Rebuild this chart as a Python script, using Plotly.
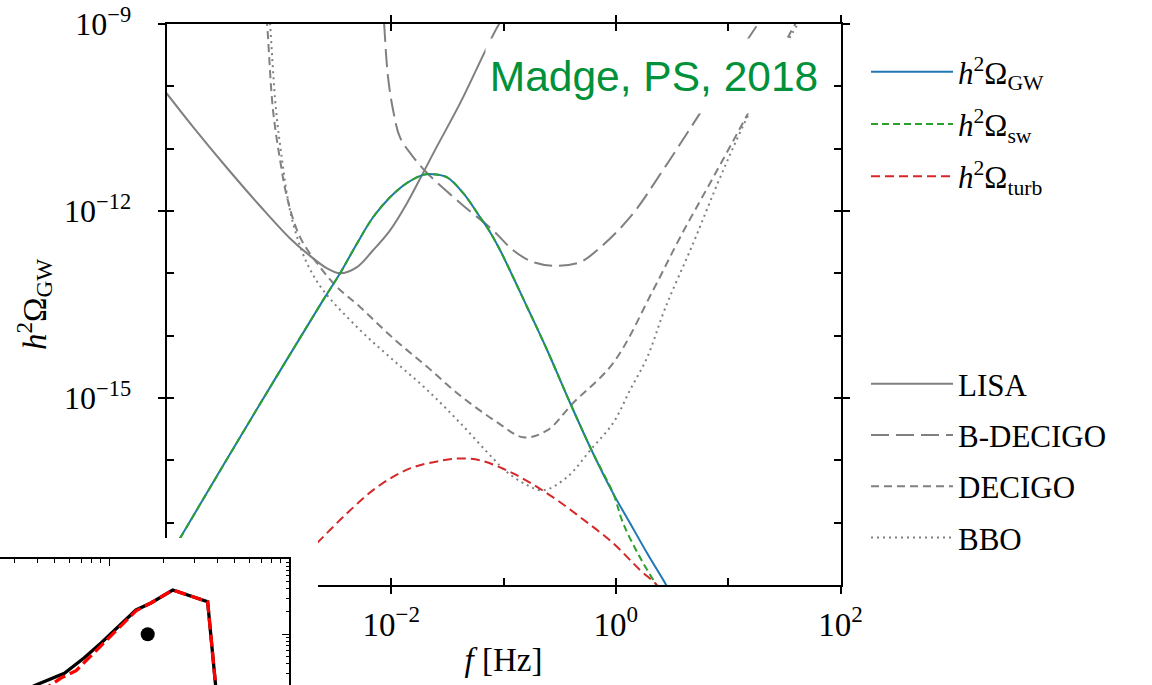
import numpy as np
import plotly.graph_objects as go

W, H = 1152, 685
OFF = 0  # page body margin is removed by the post script below, so layout pixels = page pixels

# ---------------- data (log10 f [Hz], log10 h^2 Omega) ----------------
gw_log_f = [-3.98, -3.88, -3.256, -2.606, -2.455, -2.304, -2.161, -2.010, -1.858, -1.716, -1.627,
            -1.502, -1.360, -1.208, -1.119, -1.030, -0.790, -0.612, -0.407, -0.202, -0.024,
            0.127, 0.279, 0.439, 0.48]
gw_log_om = [-17.55, -17.25, -15.36, -13.43, -13.00, -12.52, -12.10, -11.78, -11.55, -11.42, -11.41,
             -11.46, -11.71, -12.10, -12.34, -12.63, -13.54, -14.23, -15.08, -15.89, -16.53,
             -17.01, -17.49, -17.97, -18.1]

sw_log_f = [-3.98, -3.88, -3.256, -2.606, -2.455, -2.304, -2.161, -2.010, -1.858, -1.716, -1.627,
            -1.502, -1.360, -1.208, -1.119, -1.030, -0.790, -0.612, -0.407, -0.202, -0.024,
            0.065, 0.216, 0.350, 0.39]
sw_log_om = [-17.55, -17.25, -15.36, -13.43, -13.00, -12.52, -12.10, -11.78, -11.55, -11.42, -11.41,
             -11.46, -11.71, -12.10, -12.34, -12.63, -13.54, -14.23, -15.08, -15.89, -16.53,
             -17.01, -17.56, -17.97, -18.1]

turb_log_f = [-2.75, -2.651, -2.428, -2.126, -1.832, -1.538, -1.386, -1.208, -0.914, -0.612,
              -0.318, -0.024, 0.216, 0.350, 0.40]
turb_log_om = [-17.48, -17.31, -16.91, -16.43, -16.13, -16.00, -15.97, -16.00, -16.21, -16.53,
               -16.91, -17.33, -17.76, -17.97, -18.08]

lisa_log_f = [-4.0, -3.764, -3.461, -3.167, -2.900, -2.722, -2.571, -2.455, -2.304, -2.161,
              -2.010, -1.858, -1.716, -1.609, -1.386, -1.039, -0.98]
lisa_log_om = [-10.11, -10.65, -11.31, -11.92, -12.44, -12.72, -12.92, -13.00, -12.90, -12.63,
               -12.31, -11.87, -11.39, -11.02, -10.27, -9.0, -8.87]

bdecigo_log_f = [-2.075, -2.063, -2.028, -1.983, -1.921, -1.805, -1.680, -1.386, -1.093, -0.914,
                 -0.736, -0.523, -0.318, -0.167, 0.127, 0.421, 0.750, 1.267, 1.3]
bdecigo_log_om = [-8.6, -8.98, -9.85, -10.38, -10.82, -11.13, -11.39, -11.87, -12.31, -12.63,
                  -12.82, -12.88, -12.82, -12.63, -12.10, -11.34, -10.43, -9.0, -8.93]

decigo_log_f = [-3.12, -3.105, -3.052, -2.989, -2.927, -2.811, -2.633, -2.482, -2.277, -1.983,
                -1.680, -1.386, -1.048, -0.825, -0.612, -0.380, -0.024, 0.332, 0.573, 0.867,
                1.178, 1.597, 1.65]
decigo_log_om = [-8.7, -8.98, -10.38, -11.18, -11.78, -12.42, -12.90, -13.22, -13.54, -14.04,
                 -14.50, -14.96, -15.40, -15.63, -15.52, -15.08, -14.44, -13.27, -12.42, -11.46,
                 -10.43, -9.0, -8.85]

bbo_log_f = [-3.09, -3.078, -3.025, -2.971, -2.918, -2.856, -2.749, -2.606, -2.277, -1.983,
             -1.680, -1.386, -1.093, -0.968, -0.808, -0.647, -0.434, -0.229, -0.024, 0.127,
             0.279, 0.439, 0.688, 0.929, 1.196, 1.62, 1.68]
bbo_log_om = [-8.7, -9.0, -10.38, -11.18, -11.83, -12.31, -12.84, -13.27, -13.91, -14.39,
              -14.87, -15.40, -15.97, -16.19, -16.38, -16.48, -16.27, -15.84, -15.40, -14.87,
              -14.35, -13.56, -12.52, -11.46, -10.40, -9.0, -8.85]

# inset fragment (bottom-left corner), log10 coordinates
inset_black_log_x = [-0.489, -0.406, -0.248, -0.139, -0.044, 0.150, 0.233, 0.354, 0.548, 0.594, 0.60]
inset_black_log_y = [-1.77, -1.68, -1.524, -1.32, -1.12, -0.68, -0.587, -0.413, -0.569, -1.68, -1.88]
inset_red_log_x = [-0.378, -0.267, -0.183, -0.044, 0.150, 0.233, 0.354, 0.548, 0.594, 0.60]
inset_red_log_y = [-1.77, -1.587, -1.49, -1.16, -0.69, -0.587, -0.413, -0.569, -1.68, -1.88]
inset_dot_log_x = [0.215]
inset_dot_log_y = [-1.004]

xtick_vals = [1e-2, 1e-1, 1e0, 1e1, 1e2]
xtick_major = [1e-2, 1e0, 1e2]
xtick_major_text = ["10<sup>\u22122</sup>", "10<sup>0</sup>", "10<sup>2</sup>"]
ytick_vals = [1e-9, 1e-10, 1e-11, 1e-12, 1e-13, 1e-14, 1e-15, 1e-16, 1e-17]
ytick_major = [1e-9, 1e-12, 1e-15]
ytick_major_text = ["10<sup>\u22129</sup>", "10<sup>\u221212</sup>", "10<sup>\u221215</sup>"]


def p10(a):
    return np.power(10.0, np.asarray(a, dtype=float))


def fx(px):  # page x pixel -> paper fraction
    return (px - OFF) / W


def fy(py):  # page y pixel -> paper fraction
    return 1 - (py - OFF) / H


GRAY = "#808080"
SERIF = "Liberation Serif"
SM = 1.0

fig = go.Figure()

# detector sensitivity curves
fig.add_trace(go.Scatter(x=p10(lisa_log_f), y=p10(lisa_log_om), mode="lines", name="LISA",
                         line=dict(color=GRAY, width=2, shape="spline", smoothing=SM),
                         legend="legend2", legendgroup="a"))
fig.add_trace(go.Scatter(x=p10(bdecigo_log_f), y=p10(bdecigo_log_om), mode="lines", name="B-DECIGO",
                         line=dict(color=GRAY, width=2, dash="18px,7px", shape="spline", smoothing=SM),
                         legend="legend2", legendgroup="b"))
fig.add_trace(go.Scatter(x=p10(decigo_log_f), y=p10(decigo_log_om), mode="lines", name="DECIGO",
                         line=dict(color=GRAY, width=2, dash="8px,5px", shape="spline", smoothing=SM),
                         legend="legend2", legendgroup="c"))
fig.add_trace(go.Scatter(x=p10(bbo_log_f), y=p10(bbo_log_om), mode="lines", name="BBO",
                         line=dict(color=GRAY, width=2, dash="2px,4px", shape="spline", smoothing=SM),
                         legend="legend2", legendgroup="d"))

# signal curves
fig.add_trace(go.Scatter(x=p10(gw_log_f), y=p10(gw_log_om), mode="lines",
                         name="<i>h</i><sup>2</sup>\u03a9<sub>GW</sub>",
                         line=dict(color="#1f77b4", width=2, shape="spline", smoothing=SM),
                         legend="legend", legendgroup="e"))
fig.add_trace(go.Scatter(x=p10(sw_log_f), y=p10(sw_log_om), mode="lines",
                         name="<i>h</i><sup>2</sup>\u03a9<sub>sw</sub>",
                         line=dict(color="#2ca02c", width=2, dash="7px,4px", shape="spline", smoothing=SM),
                         legend="legend", legendgroup="f"))
fig.add_trace(go.Scatter(x=p10(turb_log_f), y=p10(turb_log_om), mode="lines",
                         name="<i>h</i><sup>2</sup>\u03a9<sub>turb</sub>",
                         line=dict(color="#d62728", width=2, dash="9px,5px", shape="spline", smoothing=SM),
                         legend="legend", legendgroup="g"))

# overlay axes used for the inward ticks (dummy invisible point)
fig.add_trace(go.Scatter(x=[1e-3], y=[1e-12], xaxis="x4", yaxis="y4", mode="markers",
                         marker=dict(opacity=0), showlegend=False, hoverinfo="skip"))

# white cover region for the pasted corner fragment
fig.add_trace(go.Scatter(x=[0.5], y=[0.5], xaxis="x2", yaxis="y2", mode="markers",
                         marker=dict(opacity=0), showlegend=False, hoverinfo="skip"))

# inset fragment
fig.add_trace(go.Scatter(x=p10(inset_black_log_x), y=p10(inset_black_log_y), xaxis="x3", yaxis="y3",
                         mode="lines", line=dict(color="black", width=3.3), showlegend=False,
                         hoverinfo="skip"))
fig.add_trace(go.Scatter(x=p10(inset_red_log_x), y=p10(inset_red_log_y), xaxis="x3", yaxis="y3",
                         mode="lines", line=dict(color="#ff0000", width=3.3, dash="12px,5px"),
                         showlegend=False, hoverinfo="skip"))
fig.add_trace(go.Scatter(x=p10(inset_dot_log_x), y=p10(inset_dot_log_y), xaxis="x3", yaxis="y3",
                         mode="markers", marker=dict(color="black", size=14), showlegend=False,
                         hoverinfo="skip"))

# main frame (page pixels)
X0, X1 = 166.5, 840.5
YT, YB = 24, 585
main_xdom = [fx(X0), fx(X1)]
main_ydom = [fy(YB), fy(YT)]
XR = [-4, 2]
YR = [-18.0, -9.0]

common_axis = dict(showgrid=False, zeroline=False, linecolor="black", linewidth=2,
                   tickcolor="black", tickwidth=1.6, ticklen=7, automargin=False)

inset_minor_x = [k * 10.0 ** e for e in (-1, 0) for k in range(2, 10)]
inset_minor_y = [k * 10.0 ** e for e in (-2, -1) for k in range(2, 10)]

# inset frame: top edge at page y=559 (10^0), right edge at page x=289 (10^1)
inset_top, inset_right = 559, 289
inset_xr = [1.0 - (inset_right - OFF) / 180.0, 1.0]
inset_yr = [-(OFF + H - inset_top) / 75.0, 0.0]

fig.update_layout(
    width=W, height=H,
    margin=dict(l=0, r=0, t=0, b=0, autoexpand=False),
    paper_bgcolor="white", plot_bgcolor="white",
    font=dict(family=SERIF, color="black", size=30),
    xaxis=dict(type="log", range=XR, domain=main_xdom, anchor="y", showline=True,
               mirror="ticks", ticks="outside", tickmode="array", tickvals=xtick_major,
               ticktext=xtick_major_text, tickfont=dict(family=SERIF, size=33),
               ticklabelstandoff=2, ticklabeloverflow="allow",
               title=dict(text="<i>f</i> [Hz]", font=dict(family=SERIF, size=33), standoff=6),
               **common_axis),
    yaxis=dict(type="log", range=YR, domain=main_ydom, anchor="x", showline=True,
               mirror="ticks", ticks="outside", tickmode="array", tickvals=ytick_major,
               ticktext=ytick_major_text, tickfont=dict(family=SERIF, size=32),
               ticklabelstandoff=20, ticklabeloverflow="allow",
               title=dict(text="<i>h</i><sup>2</sup>\u03a9<sub>GW</sub>",
                          font=dict(family=SERIF, size=33), standoff=8),
               **common_axis),
    xaxis4=dict(type="log", range=XR, overlaying="x", anchor="y", side="bottom", showline=True,
                mirror="ticks", ticks="inside", tickmode="array", tickvals=xtick_vals,
                showticklabels=False, **common_axis),
    yaxis4=dict(type="log", range=YR, overlaying="y", anchor="x", side="left", showline=True,
                mirror="ticks", ticks="inside", tickmode="array", tickvals=ytick_vals,
                showticklabels=False, **common_axis),
    xaxis2=dict(domain=[0, fx(318)], anchor="y2", visible=False, range=[0, 1], automargin=False),
    yaxis2=dict(domain=[0, fy(538)], anchor="x2", visible=False, range=[0, 1], automargin=False),
    xaxis3=dict(type="log", range=inset_xr, domain=[0, fx(inset_right)], anchor="y3", side="top",
                showline=True, ticks="inside", tickmode="array", tickvals=[1, 10],
                showticklabels=False, showgrid=False, zeroline=False, linecolor="black",
                linewidth=2, tickcolor="black", tickwidth=1.2, ticklen=7, automargin=False,
                minor=dict(ticks="inside", tickmode="array", tickvals=inset_minor_x, ticklen=3.5,
                           tickwidth=1, tickcolor="black", showgrid=False)),
    yaxis3=dict(type="log", range=inset_yr, domain=[0, fy(inset_top)], anchor="x3", side="right",
                showline=True, ticks="inside", tickmode="array", tickvals=[0.1, 1],
                showticklabels=False, showgrid=False, zeroline=False, linecolor="black",
                linewidth=2, tickcolor="black", tickwidth=1.2, ticklen=7, automargin=False,
                minor=dict(ticks="inside", tickmode="array", tickvals=inset_minor_y, ticklen=3.5,
                           tickwidth=1, tickcolor="black", showgrid=False)),
    legend=dict(x=fx(866), y=fy(45), xanchor="left", yanchor="top",
                bgcolor="rgba(0,0,0,0)", font=dict(family=SERIF, size=31),
                itemwidth=82, tracegroupgap=9),
    legend2=dict(x=fx(866), y=fy(357), xanchor="left", yanchor="top",
                 bgcolor="rgba(0,0,0,0)", font=dict(family=SERIF, size=31),
                 itemwidth=82, tracegroupgap=8),
    annotations=[dict(text="Madge, PS, 2018", xref="paper", yref="paper",
                      x=fx(654), y=fy(76.5),
                      xanchor="center", yanchor="middle", showarrow=False,
                      font=dict(family="Liberation Sans", size=42.5, color="#00913a"),
                      bgcolor="white", width=334, height=72)],
    showlegend=True,
)

fig.write_html("out.html", config={"displayModeBar": False},
               post_script="document.body.style.margin = '0px';")
